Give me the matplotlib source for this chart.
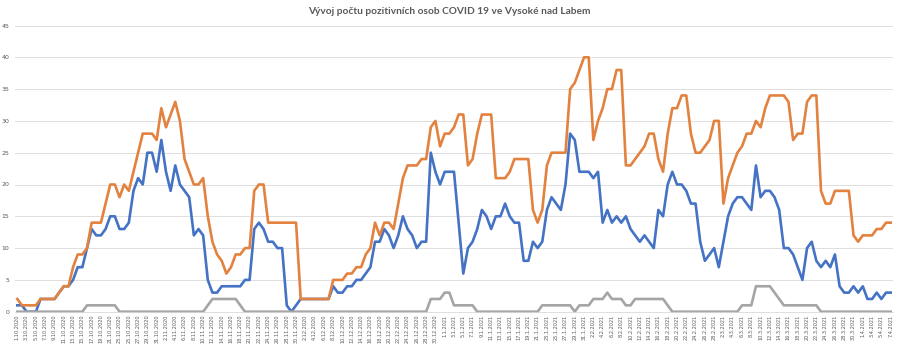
import matplotlib
matplotlib.use("Agg")
import matplotlib.pyplot as plt
import pandas as pd

# one value per day, 1.10.2020 .. 7.4.2021
dates = pd.date_range("2020-10-01", "2021-04-07", freq="D")
date_labels = [f"{d.day}.{d.month}.{d.year}" for d in dates]

blue_vals = [
    1, 1, 0, 0, 0, 2, 2, 2, 2, 3, 4, 4, 5, 7, 7, 10, 13, 12, 12, 13,
    15, 15, 13, 13, 14, 19, 21, 20, 25, 25, 22, 27, 22, 19, 23, 20, 19, 18, 12, 13,
    12, 5, 3, 3, 4, 4, 4, 4, 4, 5, 5, 13, 14, 13, 11, 11, 10, 10, 1, 0,
    1, 2, 2, 2, 2, 2, 2, 2, 4, 3, 3, 4, 4, 5, 5, 6, 7, 11, 11, 13,
    12, 10, 12, 15, 13, 12, 10, 11, 11, 25, 22, 20, 22, 22, 22, 14, 6, 10, 11, 13,
    16, 15, 13, 15, 15, 17, 15, 14, 14, 8, 8, 11, 10, 11, 16, 18, 17, 16, 20, 28,
    27, 22, 22, 22, 21, 22, 14, 16, 14, 15, 14, 15, 13, 12, 11, 12, 11, 10, 16, 15,
    20, 22, 20, 20, 19, 17, 17, 11, 8, 9, 10, 7, 11, 15, 17, 18, 18, 17, 16, 23,
    18, 19, 19, 18, 16, 10, 10, 9, 7, 5, 10, 11, 8, 7, 8, 7, 9, 4, 3, 3,
    4, 3, 4, 2, 2, 3, 2, 3, 3,
]
orange_vals = [
    2, 1, 1, 1, 1, 2, 2, 2, 2, 3, 4, 4, 7, 9, 9, 10, 14, 14, 14, 17,
    20, 20, 18, 20, 19, 22, 25, 28, 28, 28, 27, 32, 29, 31, 33, 30, 24, 22, 20, 20,
    21, 15, 11, 9, 8, 6, 7, 9, 9, 10, 10, 19, 20, 20, 14, 14, 14, 14, 14, 14,
    14, 2, 2, 2, 2, 2, 2, 2, 5, 5, 5, 6, 6, 7, 7, 9, 10, 14, 12, 14,
    14, 13, 17, 21, 23, 23, 23, 24, 24, 29, 30, 26, 28, 28, 29, 31, 31, 23, 24, 28,
    31, 31, 31, 21, 21, 21, 22, 24, 24, 24, 24, 16, 14, 16, 23, 25, 25, 25, 25, 35,
    36, 38, 40, 40, 27, 30, 32, 35, 35, 38, 38, 23, 23, 24, 25, 26, 28, 28, 24, 22,
    28, 32, 32, 34, 34, 28, 25, 25, 26, 27, 30, 30, 17, 21, 23, 25, 26, 28, 28, 30,
    29, 32, 34, 34, 34, 34, 33, 27, 28, 28, 33, 34, 34, 19, 17, 17, 19, 19, 19, 19,
    12, 11, 12, 12, 12, 13, 13, 14, 14,
]
gray_vals = [
    0, 0, 0, 0, 0, 0, 0, 0, 0, 0, 0, 0, 0, 0, 0, 1, 1, 1, 1, 1,
    1, 1, 0, 0, 0, 0, 0, 0, 0, 0, 0, 0, 0, 0, 0, 0, 0, 0, 0, 0,
    0, 1, 2, 2, 2, 2, 2, 2, 1, 0, 0, 0, 0, 0, 0, 0, 0, 0, 0, 0,
    0, 0, 0, 0, 0, 0, 0, 0, 0, 0, 0, 0, 0, 0, 0, 0, 0, 0, 0, 0,
    0, 0, 0, 0, 0, 0, 0, 0, 0, 2, 2, 2, 3, 3, 1, 1, 1, 1, 1, 0,
    0, 0, 0, 0, 0, 0, 0, 0, 0, 0, 0, 0, 0, 1, 1, 1, 1, 1, 1, 1,
    0, 1, 1, 1, 2, 2, 2, 3, 2, 2, 2, 1, 1, 2, 2, 2, 2, 2, 2, 2,
    1, 0, 0, 0, 0, 0, 0, 0, 0, 0, 0, 0, 0, 0, 0, 0, 1, 1, 1, 4,
    4, 4, 4, 3, 2, 1, 1, 1, 1, 1, 1, 1, 1, 0, 0, 0, 0, 0, 0, 0,
    0, 0, 0, 0, 0, 0, 0, 0, 0,
]

series = [
    (blue_vals, "#4472C4"),
    (orange_vals, "#E3823F"),
    (gray_vals, "#A5A5A5"),
]

W, H = 899, 345
fig = plt.figure(figsize=(W / 100, H / 100), dpi=100)
ax = fig.add_axes([15 / W, 1 - 311.7 / H, (893 - 15) / W, (311.7 - 25.5) / H])

xs = list(range(len(dates)))
for vals, col in series:
    ax.plot(xs, vals, color=col, lw=1.9, solid_joinstyle="round", clip_on=False)

ax.set_xlim(-0.5, len(dates) - 0.5)
ax.set_ylim(0, 45)
ax.set_yticks(range(0, 46, 5))
ax.grid(axis="y", color="#D9D9D9", lw=0.6)
ax.set_axisbelow(True)

ax.set_xticks(xs[::2])
ax.set_xticklabels(date_labels[::2], rotation=90, fontsize=3.6, color="#595959")

for s in ["top", "right", "left"]:
    ax.spines[s].set_visible(False)
ax.spines["bottom"].set_color("#D9D9D9")
ax.spines["bottom"].set_linewidth(0.6)
ax.tick_params(axis="y", length=0, labelsize=4.5, labelcolor="#595959", pad=4)
ax.tick_params(axis="x", length=0, pad=2)

fig.text(0.5, 1 - 11 / H, "Vývoj počtu pozitivních osob COVID 19 ve Vysoké nad Labem",
         ha="center", va="center", fontsize=7.3, fontweight="bold",
         color="#595959", family="Lato")

fig.savefig("out.png", dpi=100)
